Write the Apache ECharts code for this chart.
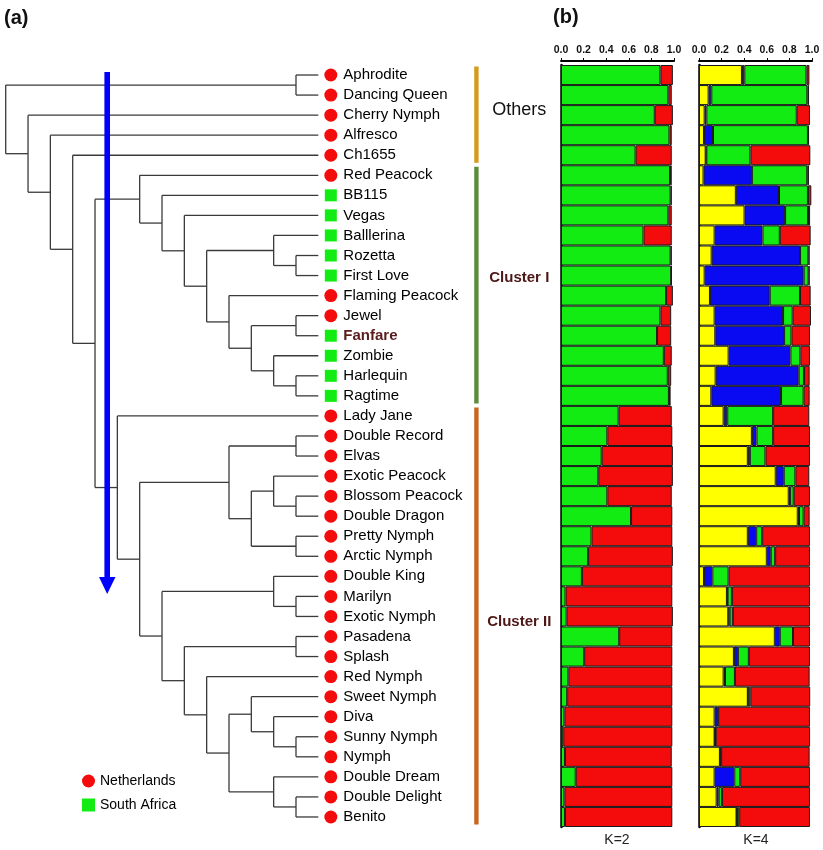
<!DOCTYPE html>
<html><head><meta charset="utf-8">
<script src="https://cdn.jsdelivr.net/npm/echarts/dist/echarts.min.js"></script>
<style>html,body{margin:0;padding:0;background:#fff}#c{width:823px;height:850px}</style>
</head><body><div id="c"></div>
<script>
// ---------- data ----------
const cultivars = ['Aphrodite','Dancing Queen','Cherry Nymph','Alfresco','Ch1655','Red Peacock','BB115','Vegas','Balllerina','Rozetta','First Love','Flaming Peacock','Jewel','Fanfare','Zombie','Harlequin','Ragtime','Lady Jane','Double Record','Elvas','Exotic Peacock','Blossom Peacock','Double Dragon','Pretty Nymph','Arctic Nymph','Double King','Marilyn','Exotic Nymph','Pasadena','Splash','Red Nymph','Sweet Nymph','Diva','Sunny Nymph','Nymph','Double Dream','Double Delight','Benito'];
const origin = ['NL','NL','NL','NL','NL','NL','SA','SA','SA','SA','SA','NL','NL','SA','SA','SA','SA','NL','NL','NL','NL','NL','NL','NL','NL','NL','NL','NL','NL','NL','NL','NL','NL','NL','NL','NL','NL','NL'];
const originNames = {NL:'Netherlands', SA:'South Africa'};
// dendrogram merges: [childA, childB, level]; leaves 0..37, merge k -> node 38+k; leaves sit at level 14
const leafLevel = 14;
const merges = [
  [0,1,13],[9,10,13],[8,39,12],[12,13,13],[15,16,13],[14,42,12],[41,43,11],[11,44,10],[40,45,9],[7,46,8],[6,47,7],[5,48,6],
  [18,19,13],[21,22,13],[20,51,12],[23,24,13],[52,53,11],[50,54,10],[26,27,13],[25,56,12],[28,29,13],[33,34,13],[32,59,12],
  [31,60,11],[36,37,13],[35,62,12],[61,63,10],[30,64,9],[58,65,8],[57,66,7],[55,67,6],[17,68,5],[49,69,4],[4,70,3],[3,71,2],[2,72,1],[38,73,0]
];
const clusterNames = ['Others','Cluster I','Cluster II'];
const clusterFirst = [0,5,17];
const clusterLast = [4,16,37];
// K=2 membership
const k2Green = [0.88,0.95,0.83,0.96,0.66,0.965,0.97,0.95,0.73,0.97,0.975,0.93,0.88,0.85,0.91,0.945,0.955,0.51,0.41,0.36,0.33,0.41,0.62,0.27,0.24,0.185,0.04,0.05,0.515,0.205,0.065,0.055,0.03,0.02,0.035,0.13,0.03,0.035];
const k2Red   = [0.11,0.03,0.16,0.02,0.32,0.015,0.01,0.03,0.25,0.01,0.005,0.06,0.095,0.125,0.07,0.03,0.015,0.47,0.575,0.63,0.66,0.57,0.365,0.715,0.75,0.80,0.945,0.94,0.47,0.78,0.92,0.93,0.955,0.965,0.945,0.855,0.955,0.95];
// K=4 membership
const k4Yellow = [0.38,0.085,0.05,0.044,0.059,0.04,0.326,0.403,0.138,0.112,0.05,0.097,0.138,0.144,0.262,0.147,0.109,0.218,0.468,0.432,0.679,0.794,0.874,0.432,0.60,0.044,0.247,0.259,0.671,0.309,0.218,0.432,0.138,0.138,0.185,0.138,0.156,0.332];
const k4Blue   = [0.021,0.024,0.015,0.08,0.006,0.428,0.382,0.359,0.424,0.782,0.876,0.529,0.606,0.609,0.547,0.735,0.617,0.032,0.041,0.018,0.071,0.012,0.011,0.074,0.035,0.074,0.006,0.012,0.044,0.035,0.012,0.004,0.027,0.004,0.005,0.174,0.018,0.004];
const k4Green  = [0.55,0.85,0.80,0.84,0.39,0.49,0.256,0.203,0.153,0.074,0.044,0.268,0.085,0.065,0.088,0.047,0.2,0.406,0.147,0.138,0.103,0.032,0.041,0.053,0.039,0.144,0.038,0.029,0.117,0.097,0.088,0.018,0.005,0.006,0.006,0.053,0.029,0.02];
const k4Red    = [0.026,0.015,0.117,0.01,0.53,0.015,0.03,0.018,0.273,0.011,0.009,0.094,0.162,0.164,0.085,0.05,0.053,0.32,0.326,0.394,0.123,0.144,0.053,0.423,0.308,0.72,0.691,0.682,0.15,0.541,0.661,0.53,0.812,0.835,0.783,0.617,0.779,0.626];
const xTicks = [0,0.2,0.4,0.6,0.8,1.0];

// ---------- style constants ----------
const FONT = 'Arial, "Liberation Sans", sans-serif';
const C_GREEN = '#12ec12', C_RED = '#f40b0b', C_YELLOW = '#ffff00', C_BLUE = '#0a0af2';
const clusterColors = ['#d49b1f','#5b8b3d','#c6661f'];
const clusterLabelStyle = [
  {fontSize:18, fontWeight:'normal', color:'#111', dy:-5},
  {fontSize:15, fontWeight:'bold', color:'#4e1616', dy:-8},
  {fontSize:15, fontWeight:'bold', color:'#4e1616', dy:5}
];
const MARK_LEVEL = 14.56, CLUSTER_LEVEL = 21.08, CLUSTER_LABEL_LEVEL = 23.0;

// ---------- dendrogram geometry from merges ----------
const nLeaf = cultivars.length;
const nodeX = [], nodeY = [];
for (let i = 0; i < nLeaf; i++) { nodeX[i] = leafLevel; nodeY[i] = i; }
const segs = [];
merges.forEach(([a, b, lv], k) => {
  const id = nLeaf + k;
  nodeX[id] = lv; nodeY[id] = (nodeY[a] + nodeY[b]) / 2;
  segs.push([lv, nodeY[a], lv, nodeY[b]]);
  segs.push([lv, nodeY[a], nodeX[a], nodeY[a]]);
  segs.push([lv, nodeY[b], nodeX[b], nodeY[b]]);
});

function leafData(code) {
  const out = [];
  cultivars.forEach((n, i) => {
    if (origin[i] !== code) return;
    const item = { name: n, value: [MARK_LEVEL, i] };
    if (n === 'Fanfare') item.label = { fontWeight: 'bold', color: '#5a1d1d' };
    out.push(item);
  });
  return out;
}

const chart = echarts.init(document.getElementById('c'), null, { renderer: 'canvas' });
const barAxisX = (gi) => ({
  gridIndex: gi, type: 'value', min: 0, max: 1, interval: 0.2, position: 'top', offset: 4,
  axisLine: { show: true, onZero: false, lineStyle: { color: '#000', width: 2 } },
  axisTick: { show: true, length: 3, lineStyle: { color: '#000', width: 1 } },
  axisLabel: { margin: 5, fontSize: 10.5, fontWeight: 'bold', color: '#111', fontFamily: FONT,
    formatter: v => xTicks.includes(+v.toFixed(1)) ? v.toFixed(1) : '' },
  splitLine: { show: false }
});
const barAxisY = (gi) => ({
  gridIndex: gi, type: 'category', data: cultivars, inverse: true,
  axisLine: { show: true, lineStyle: { color: '#000', width: 2.5 } },
  axisTick: { show: false }, axisLabel: { show: false }, splitLine: { show: false }
});
const barSeries = (name, data, color, stack, xi) => ({
  name, type: 'bar', stack, data, xAxisIndex: xi, yAxisIndex: xi,
  barCategoryGap: '0%', barWidth: '100%',
  itemStyle: { color, borderColor: '#1a1a1a', borderWidth: 1 },
  emphasis: { disabled: true }, animation: false
});
const leafLabel = { show: true, position: 'right', formatter: '{b}', fontSize: 15, color: '#000', opacity: 1, fontFamily: FONT };

chart.setOption({
  animation: false,
  textStyle: { fontFamily: FONT },
  grid: [
    { left: 5.7, top: 65, width: 558.25, height: 762, outerBoundsMode: 'none' },
    { left: 561, top: 65, width: 113, height: 762, outerBoundsMode: 'none' },
    { left: 699, top: 65, width: 113, height: 762, outerBoundsMode: 'none' }
  ],
  xAxis: [
    { gridIndex: 0, type: 'value', min: 0, max: 25, show: false },
    barAxisX(1), barAxisX(2)
  ],
  yAxis: [
    { gridIndex: 0, type: 'value', min: -0.5, max: 37.5, inverse: true, show: false },
    barAxisY(1), barAxisY(2)
  ],
  legend: {
    orient: 'vertical', left: 82, top: 774, padding: 0, itemWidth: 13, itemHeight: 13, itemGap: 10,
    selectedMode: false,
    textStyle: { fontSize: 14, color: '#000', fontFamily: FONT },
    data: [{ name: originNames.NL, icon: 'circle' }, { name: originNames.SA, icon: 'rect' }]
  },
  series: [
    {
      type: 'custom', xAxisIndex: 0, yAxisIndex: 0, data: segs, silent: true,
      renderItem: (params, api) => {
        const p1 = api.coord([api.value(0), api.value(1)]);
        const p2 = api.coord([api.value(2), api.value(3)]);
        return { type: 'line', shape: { x1: p1[0], y1: p1[1], x2: p2[0], y2: p2[1] },
          style: { stroke: '#3a3a3a', lineWidth: 1.3 } };
      }
    },
    {
      type: 'custom', xAxisIndex: 0, yAxisIndex: 0, silent: true,
      data: clusterNames.map((n, i) => [clusterFirst[i], clusterLast[i], i]),
      renderItem: (params, api) => {
        const i = api.value(2);
        const top = api.coord([CLUSTER_LEVEL, api.value(0) - 0.5]);
        const bot = api.coord([CLUSTER_LEVEL, api.value(1) + 0.5]);
        const mid = api.coord([CLUSTER_LABEL_LEVEL, (api.value(0) + api.value(1)) / 2]);
        const st = clusterLabelStyle[i];
        return { type: 'group', children: [
          { type: 'rect', shape: { x: top[0] - 2.2, y: top[1] + 1.5, width: 4.4, height: bot[1] - top[1] - 4 },
            style: { fill: clusterColors[i] } },
          { type: 'text', x: mid[0], y: mid[1] + st.dy,
            style: { text: clusterNames[i], fontSize: st.fontSize, fontWeight: st.fontWeight, fill: st.color,
              fontFamily: FONT, align: 'center', verticalAlign: 'middle' } }
        ] };
      }
    },
    {
      name: originNames.NL, type: 'scatter', xAxisIndex: 0, yAxisIndex: 0, clip: false,
      symbol: 'circle', symbolSize: 13, itemStyle: { color: C_RED, opacity: 1 }, data: leafData('NL'),
      label: Object.assign({ distance: 6 }, leafLabel),
      emphasis: { disabled: true }
    },
    {
      name: originNames.SA, type: 'scatter', xAxisIndex: 0, yAxisIndex: 0, clip: false,
      symbol: 'rect', symbolSize: 12, itemStyle: { color: C_GREEN, opacity: 1 }, data: leafData('SA'),
      label: Object.assign({ distance: 6.5 }, leafLabel),
      emphasis: { disabled: true }
    },
    barSeries('K2 green', k2Green, C_GREEN, 'k2', 1),
    barSeries('K2 red', k2Red, C_RED, 'k2', 1),
    barSeries('K4 yellow', k4Yellow, C_YELLOW, 'k4', 2),
    barSeries('K4 blue', k4Blue, C_BLUE, 'k4', 2),
    barSeries('K4 green', k4Green, C_GREEN, 'k4', 2),
    barSeries('K4 red', k4Red, C_RED, 'k4', 2)
  ],
  graphic: [
    { type: 'text', left: 4, top: 8, z: 10, style: { text: '(a)', font: 'bold 20px ' + FONT, fill: '#111' } },
    { type: 'text', left: 553, top: 7, z: 10, style: { text: '(b)', font: 'bold 20px ' + FONT, fill: '#111' } },
    { type: 'text', x: 617, y: 840, z: 10, style: { text: 'K=2', font: '14px ' + FONT, fill: '#222', align: 'center', verticalAlign: 'middle' } },
    { type: 'text', x: 756, y: 840, z: 10, style: { text: 'K=4', font: '14px ' + FONT, fill: '#222', align: 'center', verticalAlign: 'middle' } },
    { type: 'rect', z: 10, shape: { x: 104.4, y: 72, width: 5.6, height: 507 }, style: { fill: '#0000ff' } },
    { type: 'polygon', z: 10, shape: { points: [[99, 577], [115.5, 577], [107.2, 594]] }, style: { fill: '#0000ff' } }
  ]
});
</script>
</body></html>
